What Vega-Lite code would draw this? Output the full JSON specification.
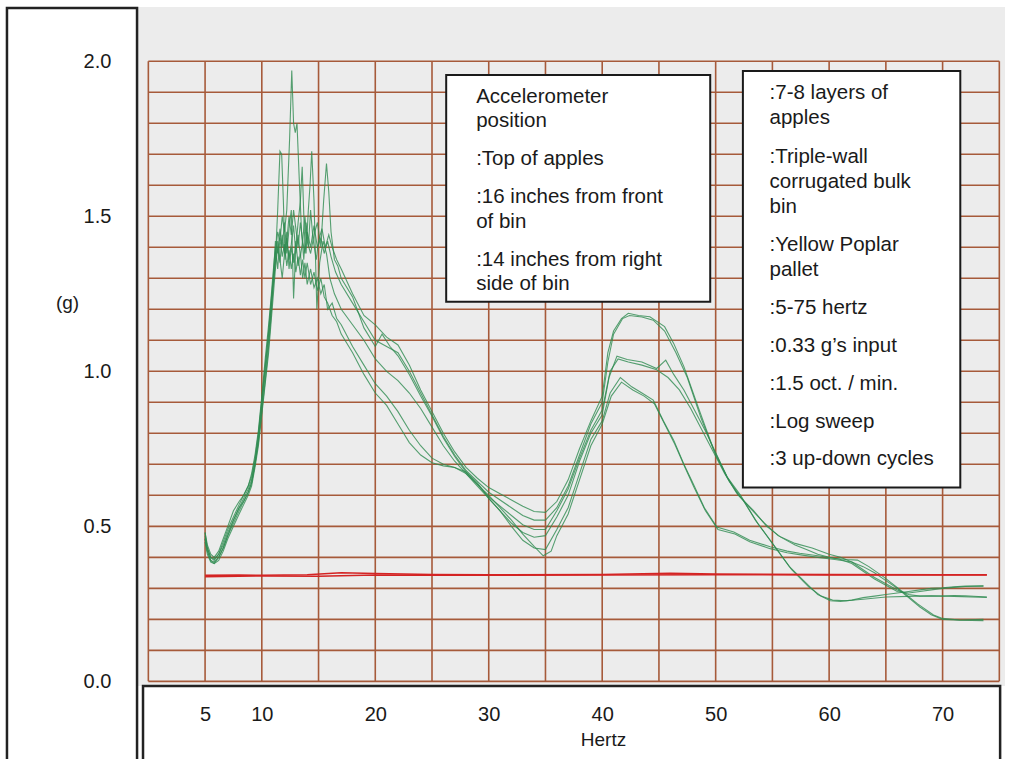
{
  "$schema": "https://vega.github.io/schema/vega-lite/v6.json",
  "width": 868,
  "height": 679,
  "autosize": {"type": "none"},
  "padding": {"left": 137, "top": 7, "right": 19, "bottom": 73},
  "background": "#ffffff",
  "config": {
    "view": {"fill": "#ececec", "stroke": null},
    "font": "Liberation Sans"
  },
  "datasets": {
    "gridx": [{"hz":0,"g":0,"g2":2},{"hz":5,"g":0,"g2":2},{"hz":10,"g":0,"g2":2},{"hz":15,"g":0,"g2":2},{"hz":20,"g":0,"g2":2},{"hz":25,"g":0,"g2":2},{"hz":30,"g":0,"g2":2},{"hz":35,"g":0,"g2":2},{"hz":40,"g":0,"g2":2},{"hz":45,"g":0,"g2":2},{"hz":50,"g":0,"g2":2},{"hz":55,"g":0,"g2":2},{"hz":60,"g":0,"g2":2},{"hz":65,"g":0,"g2":2},{"hz":70,"g":0,"g2":2},{"hz":75,"g":0,"g2":2}],
    "gridy": [{"g":0,"hz":0,"hz2":75},{"g":0.1,"hz":0,"hz2":75},{"g":0.2,"hz":0,"hz2":75},{"g":0.3,"hz":0,"hz2":75},{"g":0.4,"hz":0,"hz2":75},{"g":0.5,"hz":0,"hz2":75},{"g":0.6,"hz":0,"hz2":75},{"g":0.7,"hz":0,"hz2":75},{"g":0.8,"hz":0,"hz2":75},{"g":0.9,"hz":0,"hz2":75},{"g":1.0,"hz":0,"hz2":75},{"g":1.1,"hz":0,"hz2":75},{"g":1.2,"hz":0,"hz2":75},{"g":1.3,"hz":0,"hz2":75},{"g":1.4,"hz":0,"hz2":75},{"g":1.5,"hz":0,"hz2":75},{"g":1.6,"hz":0,"hz2":75},{"g":1.7,"hz":0,"hz2":75},{"g":1.8,"hz":0,"hz2":75},{"g":1.9,"hz":0,"hz2":75},{"g":2.0,"hz":0,"hz2":75}],
    "input": [
      {"s":"in1","hz":5,"g":0.342},{"s":"in1","hz":8,"g":0.343},{"s":"in1","hz":10,"g":0.342},{"s":"in1","hz":14,"g":0.344},{"s":"in1","hz":17,"g":0.350},{"s":"in1","hz":20,"g":0.348},{"s":"in1","hz":25,"g":0.345},{"s":"in1","hz":30,"g":0.344},{"s":"in1","hz":40,"g":0.345},{"s":"in1","hz":46,"g":0.349},{"s":"in1","hz":50,"g":0.346},{"s":"in1","hz":60,"g":0.345},{"s":"in1","hz":70,"g":0.344},{"s":"in1","hz":73.9,"g":0.344},
      {"s":"in2","hz":5,"g":0.337},{"s":"in2","hz":10,"g":0.340},{"s":"in2","hz":15,"g":0.339},{"s":"in2","hz":20,"g":0.343},{"s":"in2","hz":30,"g":0.342},{"s":"in2","hz":40,"g":0.343},{"s":"in2","hz":50,"g":0.344},{"s":"in2","hz":60,"g":0.343},{"s":"in2","hz":73.9,"g":0.343}
    ],
    "traces": [
      {"s":"A1","hz":5,"g":0.48},{"s":"A1","hz":5.2,"g":0.43},{"s":"A1","hz":5.5,"g":0.40},{"s":"A1","hz":5.8,"g":0.39},{"s":"A1","hz":6.2,"g":0.41},{"s":"A1","hz":6.6,"g":0.44},{"s":"A1","hz":7,"g":0.48},{"s":"A1","hz":7.5,"g":0.52},{"s":"A1","hz":8,"g":0.56},{"s":"A1","hz":8.4,"g":0.59},{"s":"A1","hz":8.8,"g":0.62},{"s":"A1","hz":9.1,"g":0.65},{"s":"A1","hz":9.4,"g":0.71},{"s":"A1","hz":9.7,"g":0.78},{"s":"A1","hz":10,"g":0.89},{"s":"A1","hz":10.3,"g":0.99},{"s":"A1","hz":10.6,"g":1.10},{"s":"A1","hz":10.8,"g":1.19},{"s":"A1","hz":11,"g":1.29},{"s":"A1","hz":11.2,"g":1.38},{"s":"A1","hz":11.4,"g":1.45},{"s":"A1","hz":11.6,"g":1.42},{"s":"A1","hz":11.8,"g":1.50},{"s":"A1","hz":12,"g":1.45},{"s":"A1","hz":12.2,"g":1.52},{"s":"A1","hz":12.45,"g":1.75},{"s":"A1","hz":12.64,"g":1.97},{"s":"A1","hz":12.8,"g":1.80},{"s":"A1","hz":12.95,"g":1.77},{"s":"A1","hz":13.1,"g":1.80},{"s":"A1","hz":13.3,"g":1.62},{"s":"A1","hz":13.5,"g":1.45},{"s":"A1","hz":13.7,"g":1.36},{"s":"A1","hz":13.9,"g":1.48},{"s":"A1","hz":14.1,"g":1.40},{"s":"A1","hz":14.3,"g":1.52},{"s":"A1","hz":14.5,"g":1.43},{"s":"A1","hz":14.8,"g":1.36},{"s":"A1","hz":15,"g":1.42},{"s":"A1","hz":15.3,"g":1.46},{"s":"A1","hz":15.6,"g":1.40},{"s":"A1","hz":15.9,"g":1.44},{"s":"A1","hz":16.2,"g":1.40},{"s":"A1","hz":16.6,"g":1.36},{"s":"A1","hz":17,"g":1.33},{"s":"A1","hz":18,"g":1.25},{"s":"A1","hz":19,"g":1.18},{"s":"A1","hz":20,"g":1.15},{"s":"A1","hz":21,"g":1.11},{"s":"A1","hz":22,"g":1.085},{"s":"A1","hz":23,"g":1.02},{"s":"A1","hz":24,"g":0.94},{"s":"A1","hz":25,"g":0.87},{"s":"A1","hz":26,"g":0.80},{"s":"A1","hz":27,"g":0.74},{"s":"A1","hz":28,"g":0.69},{"s":"A1","hz":29,"g":0.655},{"s":"A1","hz":30,"g":0.625},{"s":"A1","hz":31,"g":0.605},{"s":"A1","hz":32,"g":0.585},{"s":"A1","hz":33,"g":0.565},{"s":"A1","hz":34,"g":0.548},{"s":"A1","hz":35,"g":0.545},{"s":"A1","hz":36,"g":0.58},{"s":"A1","hz":37,"g":0.65},{"s":"A1","hz":38,"g":0.75},{"s":"A1","hz":39,"g":0.84},{"s":"A1","hz":40,"g":0.92},{"s":"A1","hz":40.5,"g":1.06},{"s":"A1","hz":41,"g":1.13},{"s":"A1","hz":41.7,"g":1.17},{"s":"A1","hz":42.3,"g":1.187},{"s":"A1","hz":43.2,"g":1.18},{"s":"A1","hz":44.2,"g":1.176},{"s":"A1","hz":45.5,"g":1.144},{"s":"A1","hz":46.3,"g":1.09},{"s":"A1","hz":47.2,"g":1.015},{"s":"A1","hz":48.5,"g":0.88},{"s":"A1","hz":49.8,"g":0.75},{"s":"A1","hz":51,"g":0.66},{"s":"A1","hz":52.2,"g":0.60},{"s":"A1","hz":53.5,"g":0.52},{"s":"A1","hz":55.1,"g":0.44},{"s":"A1","hz":56.5,"g":0.37},{"s":"A1","hz":58,"g":0.316},{"s":"A1","hz":59,"g":0.28},{"s":"A1","hz":60.1,"g":0.26},{"s":"A1","hz":61,"g":0.258},{"s":"A1","hz":62,"g":0.262},{"s":"A1","hz":63,"g":0.27},{"s":"A1","hz":64,"g":0.275},{"s":"A1","hz":65,"g":0.28},{"s":"A1","hz":66,"g":0.285},{"s":"A1","hz":67,"g":0.29},{"s":"A1","hz":68,"g":0.295},{"s":"A1","hz":69,"g":0.30},{"s":"A1","hz":70,"g":0.302},{"s":"A1","hz":71,"g":0.305},{"s":"A1","hz":72,"g":0.307},{"s":"A1","hz":73.6,"g":0.307},

      {"s":"A2","hz":5,"g":0.46},{"s":"A2","hz":5.2,"g":0.42},{"s":"A2","hz":5.5,"g":0.39},{"s":"A2","hz":5.8,"g":0.385},{"s":"A2","hz":6.2,"g":0.40},{"s":"A2","hz":6.6,"g":0.43},{"s":"A2","hz":7,"g":0.47},{"s":"A2","hz":7.5,"g":0.51},{"s":"A2","hz":8,"g":0.55},{"s":"A2","hz":8.4,"g":0.58},{"s":"A2","hz":8.8,"g":0.61},{"s":"A2","hz":9.1,"g":0.64},{"s":"A2","hz":9.4,"g":0.70},{"s":"A2","hz":9.7,"g":0.77},{"s":"A2","hz":10,"g":0.87},{"s":"A2","hz":10.3,"g":0.97},{"s":"A2","hz":10.6,"g":1.08},{"s":"A2","hz":10.8,"g":1.17},{"s":"A2","hz":11,"g":1.27},{"s":"A2","hz":11.2,"g":1.36},{"s":"A2","hz":11.4,"g":1.52},{"s":"A2","hz":11.6,"g":1.71},{"s":"A2","hz":11.75,"g":1.70},{"s":"A2","hz":11.9,"g":1.55},{"s":"A2","hz":12.05,"g":1.36},{"s":"A2","hz":12.2,"g":1.42},{"s":"A2","hz":12.4,"g":1.50},{"s":"A2","hz":12.6,"g":1.44},{"s":"A2","hz":12.8,"g":1.52},{"s":"A2","hz":13,"g":1.46},{"s":"A2","hz":13.2,"g":1.40},{"s":"A2","hz":13.4,"g":1.48},{"s":"A2","hz":13.6,"g":1.42},{"s":"A2","hz":13.8,"g":1.38},{"s":"A2","hz":14,"g":1.45},{"s":"A2","hz":14.3,"g":1.40},{"s":"A2","hz":14.6,"g":1.47},{"s":"A2","hz":14.9,"g":1.40},{"s":"A2","hz":15.2,"g":1.43},{"s":"A2","hz":15.5,"g":1.38},{"s":"A2","hz":15.8,"g":1.42},{"s":"A2","hz":16.1,"g":1.37},{"s":"A2","hz":16.5,"g":1.32},{"s":"A2","hz":17,"g":1.28},{"s":"A2","hz":18,"g":1.22},{"s":"A2","hz":19,"g":1.16},{"s":"A2","hz":20,"g":1.10},{"s":"A2","hz":21,"g":1.08},{"s":"A2","hz":22,"g":1.06},{"s":"A2","hz":23,"g":1.00},{"s":"A2","hz":24,"g":0.93},{"s":"A2","hz":25,"g":0.86},{"s":"A2","hz":26,"g":0.79},{"s":"A2","hz":27,"g":0.73},{"s":"A2","hz":28,"g":0.68},{"s":"A2","hz":29,"g":0.645},{"s":"A2","hz":30,"g":0.61},{"s":"A2","hz":31,"g":0.585},{"s":"A2","hz":32,"g":0.56},{"s":"A2","hz":33,"g":0.535},{"s":"A2","hz":34,"g":0.52},{"s":"A2","hz":35,"g":0.52},{"s":"A2","hz":36,"g":0.56},{"s":"A2","hz":37,"g":0.63},{"s":"A2","hz":38,"g":0.73},{"s":"A2","hz":39,"g":0.83},{"s":"A2","hz":40,"g":0.90},{"s":"A2","hz":40.5,"g":1.03},{"s":"A2","hz":41,"g":1.12},{"s":"A2","hz":41.8,"g":1.17},{"s":"A2","hz":42.4,"g":1.18},{"s":"A2","hz":43.5,"g":1.175},{"s":"A2","hz":44.5,"g":1.165},{"s":"A2","hz":45.5,"g":1.13},{"s":"A2","hz":46.5,"g":1.06},{"s":"A2","hz":47.5,"g":0.98},{"s":"A2","hz":48.7,"g":0.85},{"s":"A2","hz":50,"g":0.73},{"s":"A2","hz":51.2,"g":0.645},{"s":"A2","hz":52.4,"g":0.585},{"s":"A2","hz":53.7,"g":0.51},{"s":"A2","hz":55.3,"g":0.43},{"s":"A2","hz":56.7,"g":0.36},{"s":"A2","hz":58.2,"g":0.305},{"s":"A2","hz":59.3,"g":0.275},{"s":"A2","hz":60.3,"g":0.262},{"s":"A2","hz":61.5,"g":0.26},{"s":"A2","hz":63,"g":0.265},{"s":"A2","hz":65,"g":0.272},{"s":"A2","hz":67,"g":0.274},{"s":"A2","hz":69,"g":0.276},{"s":"A2","hz":71,"g":0.274},{"s":"A2","hz":73.9,"g":0.271},

      {"s":"B1","hz":5,"g":0.47},{"s":"B1","hz":5.2,"g":0.43},{"s":"B1","hz":5.5,"g":0.40},{"s":"B1","hz":5.8,"g":0.395},{"s":"B1","hz":6.2,"g":0.41},{"s":"B1","hz":6.6,"g":0.45},{"s":"B1","hz":7,"g":0.49},{"s":"B1","hz":7.5,"g":0.53},{"s":"B1","hz":8,"g":0.57},{"s":"B1","hz":8.4,"g":0.60},{"s":"B1","hz":8.8,"g":0.63},{"s":"B1","hz":9.1,"g":0.66},{"s":"B1","hz":9.4,"g":0.72},{"s":"B1","hz":9.7,"g":0.80},{"s":"B1","hz":10,"g":0.91},{"s":"B1","hz":10.3,"g":1.02},{"s":"B1","hz":10.6,"g":1.13},{"s":"B1","hz":10.8,"g":1.22},{"s":"B1","hz":11,"g":1.30},{"s":"B1","hz":11.2,"g":1.42},{"s":"B1","hz":11.4,"g":1.38},{"s":"B1","hz":11.6,"g":1.46},{"s":"B1","hz":11.8,"g":1.40},{"s":"B1","hz":12,"g":1.48},{"s":"B1","hz":12.2,"g":1.38},{"s":"B1","hz":12.4,"g":1.46},{"s":"B1","hz":12.6,"g":1.52},{"s":"B1","hz":12.8,"g":1.235},{"s":"B1","hz":13,"g":1.40},{"s":"B1","hz":13.2,"g":1.48},{"s":"B1","hz":13.4,"g":1.55},{"s":"B1","hz":13.56,"g":1.66},{"s":"B1","hz":13.75,"g":1.45},{"s":"B1","hz":13.9,"g":1.38},{"s":"B1","hz":14.1,"g":1.52},{"s":"B1","hz":14.25,"g":1.60},{"s":"B1","hz":14.4,"g":1.71},{"s":"B1","hz":14.6,"g":1.55},{"s":"B1","hz":14.85,"g":1.20},{"s":"B1","hz":15.1,"g":1.35},{"s":"B1","hz":15.4,"g":1.42},{"s":"B1","hz":15.7,"g":1.38},{"s":"B1","hz":16,"g":1.30},{"s":"B1","hz":16.4,"g":1.25},{"s":"B1","hz":17,"g":1.20},{"s":"B1","hz":18,"g":1.15},{"s":"B1","hz":19,"g":1.10},{"s":"B1","hz":20,"g":1.04},{"s":"B1","hz":21,"g":1.00},{"s":"B1","hz":22,"g":0.97},{"s":"B1","hz":23,"g":0.93},{"s":"B1","hz":24,"g":0.88},{"s":"B1","hz":25,"g":0.82},{"s":"B1","hz":26,"g":0.76},{"s":"B1","hz":27,"g":0.71},{"s":"B1","hz":28,"g":0.67},{"s":"B1","hz":29,"g":0.63},{"s":"B1","hz":30,"g":0.59},{"s":"B1","hz":31,"g":0.55},{"s":"B1","hz":32,"g":0.51},{"s":"B1","hz":33,"g":0.48},{"s":"B1","hz":34,"g":0.465},{"s":"B1","hz":35,"g":0.47},{"s":"B1","hz":36,"g":0.53},{"s":"B1","hz":37,"g":0.60},{"s":"B1","hz":38,"g":0.71},{"s":"B1","hz":39,"g":0.80},{"s":"B1","hz":40,"g":0.86},{"s":"B1","hz":40.6,"g":0.98},{"s":"B1","hz":41.3,"g":1.049},{"s":"B1","hz":42.2,"g":1.038},{"s":"B1","hz":43.5,"g":1.03},{"s":"B1","hz":44.8,"g":1.009},{"s":"B1","hz":45.6,"g":1.036},{"s":"B1","hz":46.3,"g":0.99},{"s":"B1","hz":47.2,"g":0.94},{"s":"B1","hz":48.2,"g":0.87},{"s":"B1","hz":49.2,"g":0.80},{"s":"B1","hz":50.1,"g":0.73},{"s":"B1","hz":51,"g":0.66},{"s":"B1","hz":52,"g":0.60},{"s":"B1","hz":53.3,"g":0.552},{"s":"B1","hz":54.5,"g":0.50},{"s":"B1","hz":55.7,"g":0.466},{"s":"B1","hz":57,"g":0.44},{"s":"B1","hz":58,"g":0.425},{"s":"B1","hz":59,"g":0.41},{"s":"B1","hz":60,"g":0.40},{"s":"B1","hz":61,"g":0.393},{"s":"B1","hz":62,"g":0.38},{"s":"B1","hz":63,"g":0.355},{"s":"B1","hz":64,"g":0.33},{"s":"B1","hz":65,"g":0.31},{"s":"B1","hz":66,"g":0.29},{"s":"B1","hz":67,"g":0.285},{"s":"B1","hz":68,"g":0.29},{"s":"B1","hz":69,"g":0.295},{"s":"B1","hz":70,"g":0.30},{"s":"B1","hz":71,"g":0.303},{"s":"B1","hz":72,"g":0.306},{"s":"B1","hz":73.6,"g":0.308},

      {"s":"B2","hz":5,"g":0.45},{"s":"B2","hz":5.2,"g":0.41},{"s":"B2","hz":5.5,"g":0.385},{"s":"B2","hz":5.8,"g":0.38},{"s":"B2","hz":6.2,"g":0.39},{"s":"B2","hz":6.6,"g":0.42},{"s":"B2","hz":7,"g":0.46},{"s":"B2","hz":7.5,"g":0.50},{"s":"B2","hz":8,"g":0.54},{"s":"B2","hz":8.4,"g":0.57},{"s":"B2","hz":8.8,"g":0.60},{"s":"B2","hz":9.1,"g":0.63},{"s":"B2","hz":9.4,"g":0.69},{"s":"B2","hz":9.7,"g":0.76},{"s":"B2","hz":10,"g":0.86},{"s":"B2","hz":10.3,"g":0.96},{"s":"B2","hz":10.6,"g":1.06},{"s":"B2","hz":10.8,"g":1.15},{"s":"B2","hz":11,"g":1.24},{"s":"B2","hz":11.2,"g":1.33},{"s":"B2","hz":11.4,"g":1.40},{"s":"B2","hz":11.6,"g":1.35},{"s":"B2","hz":11.8,"g":1.44},{"s":"B2","hz":12,"g":1.38},{"s":"B2","hz":12.2,"g":1.43},{"s":"B2","hz":12.4,"g":1.36},{"s":"B2","hz":12.6,"g":1.41},{"s":"B2","hz":12.8,"g":1.47},{"s":"B2","hz":13,"g":1.38},{"s":"B2","hz":13.2,"g":1.44},{"s":"B2","hz":13.4,"g":1.37},{"s":"B2","hz":13.6,"g":1.42},{"s":"B2","hz":13.8,"g":1.50},{"s":"B2","hz":14,"g":1.42},{"s":"B2","hz":14.3,"g":1.38},{"s":"B2","hz":14.6,"g":1.44},{"s":"B2","hz":14.9,"g":1.48},{"s":"B2","hz":15.2,"g":1.40},{"s":"B2","hz":15.45,"g":1.55},{"s":"B2","hz":15.7,"g":1.67},{"s":"B2","hz":15.9,"g":1.58},{"s":"B2","hz":16.1,"g":1.45},{"s":"B2","hz":16.4,"g":1.36},{"s":"B2","hz":16.7,"g":1.34},{"s":"B2","hz":17,"g":1.30},{"s":"B2","hz":18,"g":1.24},{"s":"B2","hz":19,"g":1.14},{"s":"B2","hz":20,"g":1.08},{"s":"B2","hz":20.6,"g":1.12},{"s":"B2","hz":21.3,"g":1.08},{"s":"B2","hz":22,"g":1.05},{"s":"B2","hz":23,"g":0.99},{"s":"B2","hz":24,"g":0.92},{"s":"B2","hz":25,"g":0.855},{"s":"B2","hz":26,"g":0.785},{"s":"B2","hz":27,"g":0.725},{"s":"B2","hz":28,"g":0.675},{"s":"B2","hz":29,"g":0.635},{"s":"B2","hz":30,"g":0.595},{"s":"B2","hz":31,"g":0.565},{"s":"B2","hz":32,"g":0.535},{"s":"B2","hz":33,"g":0.505},{"s":"B2","hz":34,"g":0.49},{"s":"B2","hz":35,"g":0.49},{"s":"B2","hz":36,"g":0.55},{"s":"B2","hz":37,"g":0.62},{"s":"B2","hz":38,"g":0.72},{"s":"B2","hz":39,"g":0.81},{"s":"B2","hz":40,"g":0.875},{"s":"B2","hz":40.7,"g":1.00},{"s":"B2","hz":41.4,"g":1.04},{"s":"B2","hz":42.3,"g":1.03},{"s":"B2","hz":43.5,"g":1.02},{"s":"B2","hz":44.8,"g":1.005},{"s":"B2","hz":45.8,"g":0.98},{"s":"B2","hz":46.8,"g":0.94},{"s":"B2","hz":47.8,"g":0.88},{"s":"B2","hz":48.8,"g":0.81},{"s":"B2","hz":49.8,"g":0.74},{"s":"B2","hz":50.8,"g":0.67},{"s":"B2","hz":51.8,"g":0.61},{"s":"B2","hz":53,"g":0.56},{"s":"B2","hz":54.3,"g":0.51},{"s":"B2","hz":55.5,"g":0.47},{"s":"B2","hz":57,"g":0.445},{"s":"B2","hz":58.5,"g":0.43},{"s":"B2","hz":60,"g":0.41},{"s":"B2","hz":61,"g":0.40},{"s":"B2","hz":62,"g":0.385},{"s":"B2","hz":63,"g":0.36},{"s":"B2","hz":64,"g":0.335},{"s":"B2","hz":65,"g":0.315},{"s":"B2","hz":66,"g":0.295},{"s":"B2","hz":67,"g":0.28},{"s":"B2","hz":68,"g":0.275},{"s":"B2","hz":69,"g":0.275},{"s":"B2","hz":70,"g":0.275},{"s":"B2","hz":71,"g":0.277},{"s":"B2","hz":72,"g":0.276},{"s":"B2","hz":73.9,"g":0.272},

      {"s":"C1","hz":5,"g":0.48},{"s":"C1","hz":5.2,"g":0.44},{"s":"C1","hz":5.5,"g":0.41},{"s":"C1","hz":5.8,"g":0.40},{"s":"C1","hz":6.2,"g":0.42},{"s":"C1","hz":6.6,"g":0.46},{"s":"C1","hz":7,"g":0.50},{"s":"C1","hz":7.5,"g":0.55},{"s":"C1","hz":8,"g":0.58},{"s":"C1","hz":8.4,"g":0.60},{"s":"C1","hz":8.8,"g":0.63},{"s":"C1","hz":9.1,"g":0.67},{"s":"C1","hz":9.4,"g":0.73},{"s":"C1","hz":9.7,"g":0.81},{"s":"C1","hz":10,"g":0.92},{"s":"C1","hz":10.3,"g":1.04},{"s":"C1","hz":10.6,"g":1.15},{"s":"C1","hz":10.8,"g":1.23},{"s":"C1","hz":11,"g":1.32},{"s":"C1","hz":11.2,"g":1.40},{"s":"C1","hz":11.4,"g":1.33},{"s":"C1","hz":11.6,"g":1.43},{"s":"C1","hz":11.8,"g":1.37},{"s":"C1","hz":12,"g":1.41},{"s":"C1","hz":12.2,"g":1.34},{"s":"C1","hz":12.4,"g":1.39},{"s":"C1","hz":12.6,"g":1.33},{"s":"C1","hz":12.8,"g":1.38},{"s":"C1","hz":13,"g":1.32},{"s":"C1","hz":13.2,"g":1.37},{"s":"C1","hz":13.4,"g":1.31},{"s":"C1","hz":13.6,"g":1.36},{"s":"C1","hz":13.8,"g":1.30},{"s":"C1","hz":14,"g":1.35},{"s":"C1","hz":14.3,"g":1.28},{"s":"C1","hz":14.6,"g":1.32},{"s":"C1","hz":14.9,"g":1.26},{"s":"C1","hz":15.2,"g":1.30},{"s":"C1","hz":15.5,"g":1.24},{"s":"C1","hz":15.8,"g":1.22},{"s":"C1","hz":16.2,"g":1.18},{"s":"C1","hz":16.6,"g":1.16},{"s":"C1","hz":17,"g":1.12},{"s":"C1","hz":18,"g":1.06},{"s":"C1","hz":19,"g":0.99},{"s":"C1","hz":20,"g":0.93},{"s":"C1","hz":21,"g":0.89},{"s":"C1","hz":22,"g":0.83},{"s":"C1","hz":23,"g":0.77},{"s":"C1","hz":24,"g":0.73},{"s":"C1","hz":25,"g":0.705},{"s":"C1","hz":26,"g":0.695},{"s":"C1","hz":27,"g":0.69},{"s":"C1","hz":28,"g":0.675},{"s":"C1","hz":29,"g":0.64},{"s":"C1","hz":30,"g":0.59},{"s":"C1","hz":31,"g":0.55},{"s":"C1","hz":32,"g":0.50},{"s":"C1","hz":33,"g":0.455},{"s":"C1","hz":34,"g":0.43},{"s":"C1","hz":35,"g":0.425},{"s":"C1","hz":36,"g":0.49},{"s":"C1","hz":37,"g":0.56},{"s":"C1","hz":38,"g":0.67},{"s":"C1","hz":39,"g":0.78},{"s":"C1","hz":40,"g":0.84},{"s":"C1","hz":40.7,"g":0.93},{"s":"C1","hz":41.6,"g":0.98},{"s":"C1","hz":42.6,"g":0.95},{"s":"C1","hz":43.5,"g":0.93},{"s":"C1","hz":44.5,"g":0.907},{"s":"C1","hz":45.4,"g":0.84},{"s":"C1","hz":46.3,"g":0.778},{"s":"C1","hz":47.2,"g":0.70},{"s":"C1","hz":48,"g":0.639},{"s":"C1","hz":49,"g":0.56},{"s":"C1","hz":50.1,"g":0.498},{"s":"C1","hz":51.6,"g":0.482},{"s":"C1","hz":53,"g":0.455},{"s":"C1","hz":54.8,"g":0.434},{"s":"C1","hz":56.3,"g":0.42},{"s":"C1","hz":57.4,"g":0.413},{"s":"C1","hz":59,"g":0.405},{"s":"C1","hz":60.4,"g":0.397},{"s":"C1","hz":61.5,"g":0.393},{"s":"C1","hz":62.5,"g":0.391},{"s":"C1","hz":63.5,"g":0.37},{"s":"C1","hz":64.8,"g":0.337},{"s":"C1","hz":66.3,"g":0.294},{"s":"C1","hz":67.8,"g":0.25},{"s":"C1","hz":69.2,"g":0.214},{"s":"C1","hz":70,"g":0.203},{"s":"C1","hz":71.5,"g":0.198},{"s":"C1","hz":73.6,"g":0.20},

      {"s":"C2","hz":5,"g":0.46},{"s":"C2","hz":5.2,"g":0.42},{"s":"C2","hz":5.5,"g":0.39},{"s":"C2","hz":5.8,"g":0.38},{"s":"C2","hz":6.2,"g":0.40},{"s":"C2","hz":6.6,"g":0.43},{"s":"C2","hz":7,"g":0.47},{"s":"C2","hz":7.5,"g":0.52},{"s":"C2","hz":8,"g":0.56},{"s":"C2","hz":8.4,"g":0.58},{"s":"C2","hz":8.8,"g":0.61},{"s":"C2","hz":9.1,"g":0.64},{"s":"C2","hz":9.4,"g":0.70},{"s":"C2","hz":9.7,"g":0.79},{"s":"C2","hz":10,"g":0.90},{"s":"C2","hz":10.3,"g":1.01},{"s":"C2","hz":10.6,"g":1.12},{"s":"C2","hz":10.8,"g":1.20},{"s":"C2","hz":11,"g":1.28},{"s":"C2","hz":11.2,"g":1.35},{"s":"C2","hz":11.4,"g":1.42},{"s":"C2","hz":11.6,"g":1.36},{"s":"C2","hz":11.8,"g":1.30},{"s":"C2","hz":12,"g":1.38},{"s":"C2","hz":12.2,"g":1.45},{"s":"C2","hz":12.4,"g":1.33},{"s":"C2","hz":12.6,"g":1.40},{"s":"C2","hz":12.8,"g":1.35},{"s":"C2","hz":13,"g":1.42},{"s":"C2","hz":13.2,"g":1.34},{"s":"C2","hz":13.4,"g":1.38},{"s":"C2","hz":13.6,"g":1.30},{"s":"C2","hz":13.8,"g":1.35},{"s":"C2","hz":14,"g":1.28},{"s":"C2","hz":14.3,"g":1.33},{"s":"C2","hz":14.6,"g":1.27},{"s":"C2","hz":14.9,"g":1.30},{"s":"C2","hz":15.2,"g":1.25},{"s":"C2","hz":15.5,"g":1.28},{"s":"C2","hz":15.8,"g":1.20},{"s":"C2","hz":16.2,"g":1.22},{"s":"C2","hz":16.6,"g":1.17},{"s":"C2","hz":17,"g":1.15},{"s":"C2","hz":18,"g":1.08},{"s":"C2","hz":19,"g":1.02},{"s":"C2","hz":20,"g":0.96},{"s":"C2","hz":21,"g":0.92},{"s":"C2","hz":22,"g":0.87},{"s":"C2","hz":23,"g":0.81},{"s":"C2","hz":24,"g":0.76},{"s":"C2","hz":25,"g":0.72},{"s":"C2","hz":26,"g":0.70},{"s":"C2","hz":27,"g":0.69},{"s":"C2","hz":28,"g":0.67},{"s":"C2","hz":29,"g":0.635},{"s":"C2","hz":30,"g":0.60},{"s":"C2","hz":31,"g":0.56},{"s":"C2","hz":32,"g":0.52},{"s":"C2","hz":33,"g":0.475},{"s":"C2","hz":34,"g":0.435},{"s":"C2","hz":34.8,"g":0.405},{"s":"C2","hz":35.5,"g":0.42},{"s":"C2","hz":36,"g":0.47},{"s":"C2","hz":37,"g":0.54},{"s":"C2","hz":38,"g":0.65},{"s":"C2","hz":39,"g":0.76},{"s":"C2","hz":40,"g":0.83},{"s":"C2","hz":40.8,"g":0.92},{"s":"C2","hz":41.7,"g":0.965},{"s":"C2","hz":42.7,"g":0.94},{"s":"C2","hz":43.7,"g":0.92},{"s":"C2","hz":44.6,"g":0.895},{"s":"C2","hz":45.5,"g":0.83},{"s":"C2","hz":46.4,"g":0.765},{"s":"C2","hz":47.3,"g":0.69},{"s":"C2","hz":48.1,"g":0.625},{"s":"C2","hz":49.1,"g":0.55},{"s":"C2","hz":50.2,"g":0.49},{"s":"C2","hz":51.7,"g":0.475},{"s":"C2","hz":53,"g":0.45},{"s":"C2","hz":54.8,"g":0.428},{"s":"C2","hz":56.3,"g":0.415},{"s":"C2","hz":57.5,"g":0.408},{"s":"C2","hz":59,"g":0.40},{"s":"C2","hz":60.5,"g":0.393},{"s":"C2","hz":62,"g":0.385},{"s":"C2","hz":63,"g":0.37},{"s":"C2","hz":64,"g":0.35},{"s":"C2","hz":65,"g":0.325},{"s":"C2","hz":66,"g":0.30},{"s":"C2","hz":67,"g":0.27},{"s":"C2","hz":68,"g":0.24},{"s":"C2","hz":69,"g":0.215},{"s":"C2","hz":70,"g":0.20},{"s":"C2","hz":71.5,"g":0.197},{"s":"C2","hz":73.6,"g":0.196}
    ],
    "frames": [
      {"hz": -12.46, "hz2": -0.996, "g": 2.172, "g2": -0.35},
      {"hz": -0.47, "hz2": 75.07, "g": -0.0153, "g2": -0.35}
    ],
    "boxes": [
      {"hz": 26.25, "hz2": 49.52, "g": 1.956, "g2": 1.224},
      {"hz": 52.40, "hz2": 71.56, "g": 1.9685, "g2": 0.6256}
    ],
    "notes": [
      {"hz": 28.89, "g": 1.886, "t": "Accelerometer"},
      {"hz": 28.89, "g": 1.807, "t": "position"},
      {"hz": 28.89, "g": 1.684, "t": ":Top of apples"},
      {"hz": 28.89, "g": 1.563, "t": ":16 inches from front"},
      {"hz": 28.89, "g": 1.482, "t": "of bin"},
      {"hz": 28.89, "g": 1.359, "t": ":14 inches from right"},
      {"hz": 28.89, "g": 1.281, "t": "side of bin"},
      {"hz": 54.75, "g": 1.8966, "t": ":7-8 layers of"},
      {"hz": 54.75, "g": 1.816, "t": "apples"},
      {"hz": 54.75, "g": 1.692, "t": ":Triple-wall"},
      {"hz": 54.75, "g": 1.611, "t": "corrugated bulk"},
      {"hz": 54.75, "g": 1.531, "t": "bin"},
      {"hz": 54.75, "g": 1.407, "t": ":Yellow Poplar"},
      {"hz": 54.75, "g": 1.3266, "t": "pallet"},
      {"hz": 54.75, "g": 1.203, "t": ":5-75 hertz"},
      {"hz": 54.75, "g": 1.0815, "t": ":0.33 g’s input"},
      {"hz": 54.75, "g": 0.958, "t": ":1.5 oct. / min."},
      {"hz": 54.75, "g": 0.837, "t": ":Log sweep"},
      {"hz": 54.75, "g": 0.716, "t": ":3 up-down cycles"}
    ]
  },
  "encoding": {
    "x": {
      "field": "hz", "type": "quantitative",
      "scale": {"domain": [-1, 75.5], "nice": false, "zero": false},
      "axis": {
        "values": [5, 10, 20, 30, 40, 50, 60, 70],
        "title": "Hertz",
        "grid": false, "ticks": false, "domain": false,
        "labelFont": "Liberation Sans", "labelFontSize": 20, "labelColor": "#1a1a1a",
        "labelPadding": 28, "labelBaseline": "middle", "labelFlush": false, "labelOverlap": false,
        "titleFont": "Liberation Sans", "titleFontSize": 19, "titleFontWeight": "normal", "titleColor": "#1a1a1a",
        "titleX": 466, "titleY": 53, "titleBaseline": "middle", "titleAlign": "center",
        "zindex": 2
      }
    },
    "y": {
      "field": "g", "type": "quantitative",
      "scale": {"domain": [-0.015, 2.175], "nice": false, "zero": false},
      "axis": {
        "values": [0, 0.5, 1, 1.5, 2],
        "format": ".1f",
        "title": "(g)",
        "grid": false, "ticks": false, "domain": false,
        "labelFont": "Liberation Sans", "labelFontSize": 20, "labelColor": "#1a1a1a",
        "labelPadding": 40, "labelAlign": "center", "labelBaseline": "middle", "labelFlush": false, "labelOverlap": false,
        "titleFont": "Liberation Sans", "titleFontSize": 19, "titleFontWeight": "normal", "titleColor": "#1a1a1a",
        "titleAngle": 0, "titleX": -70, "titleY": 295, "titleAlign": "center", "titleBaseline": "middle",
        "zindex": 2
      }
    }
  },
  "layer": [
    {
      "data": {"name": "gridx"},
      "mark": {"type": "rule", "color": "#a65a3a", "strokeWidth": 1.6},
      "encoding": {"y2": {"field": "g2"}}
    },
    {
      "data": {"name": "gridy"},
      "mark": {"type": "rule", "color": "#a65a3a", "strokeWidth": 1.6},
      "encoding": {"x2": {"field": "hz2"}}
    },
    {
      "data": {"name": "traces"},
      "mark": {"type": "line", "color": "#2e8b50", "strokeWidth": 1.1, "opacity": 0.8},
      "encoding": {"detail": {"field": "s"}}
    },
    {
      "data": {"name": "input"},
      "mark": {"type": "line", "color": "#d42424", "strokeWidth": 1.5},
      "encoding": {"detail": {"field": "s"}}
    },
    {
      "data": {"name": "frames"},
      "mark": {"type": "rect", "fill": "#ffffff", "stroke": "#222222", "strokeWidth": 2.5},
      "encoding": {"x2": {"field": "hz2"}, "y2": {"field": "g2"}}
    },
    {
      "data": {"name": "boxes"},
      "mark": {"type": "rect", "fill": "#ffffff", "stroke": "#1a1a1a", "strokeWidth": 2},
      "encoding": {"x2": {"field": "hz2"}, "y2": {"field": "g2"}}
    },
    {
      "data": {"name": "notes"},
      "mark": {"type": "text", "align": "left", "baseline": "middle", "font": "Liberation Sans", "fontSize": 20.5, "color": "#1a1a1a"},
      "encoding": {"text": {"field": "t"}}
    }
  ]
}
